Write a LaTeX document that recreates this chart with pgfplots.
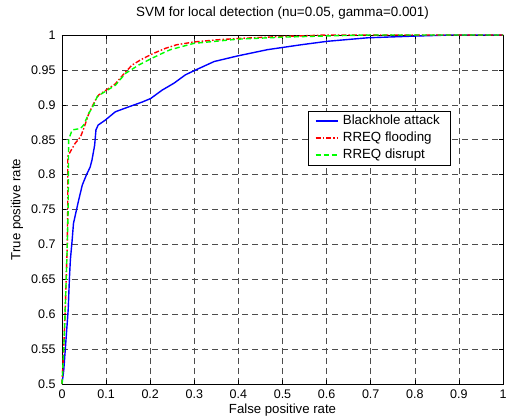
\documentclass[border=0pt]{standalone}
\usepackage{fontspec}
\setmainfont{Liberation Sans}
\usepackage{pgfplots}
\pgfplotsset{compat=1.18}
\definecolor{mblue}{RGB}{0,0,255}
\definecolor{mred}{RGB}{255,0,0}
\definecolor{mgreen}{RGB}{0,255,0}
\begin{document}
\begin{tikzpicture}[x=1pt,y=1pt]
\useasboundingbox (-62,-32) rectangle (444,384);
\begin{axis}[
  at={(0,0)}, anchor=south west,
  scale only axis, width=441pt, height=349pt,
  xmin=0, xmax=1, ymin=0.5, ymax=1,
  xtick={0,0.1,...,1.001}, ytick={0.5,0.55,...,1.001},
  scaled ticks=false,
  /pgf/number format/assume math mode=true,
  tick label style={font=\fontsize{12.5}{14}\selectfont},
  label style={font=\fontsize{13.2}{15}\selectfont},
  title style={font=\fontsize{13.4}{15}\selectfont, at={(0.5,1.0344)}, anchor=base},
  title={SVM for local detection (nu=0.05, gamma=0.001)},
  xlabel={False positive rate}, ylabel={True positive rate},
  xlabel style={at={(0.5,-0.0831)}, anchor=base},
  ylabel style={at={(-0.0946,0.5)}, anchor=base},
  xticklabel style={yshift=-2pt},
  yticklabel style={xshift=-3pt},
  tick align=inside, xtick pos=both, ytick pos=both,
  major tick length=4pt,
  axis line style={line width=0.8pt},
  every tick/.style={black, line width=0.6pt},
  grid=major,
  major grid style={black!70, line width=0.5pt, dash pattern=on 6pt off 4pt},
  clip=false,
  legend cell align=left,
  legend style={at={(0.5585,0.782)}, anchor=north west, draw=black, line width=0.8pt,
    fill=white, font=\fontsize{13.3}{15}\selectfont, inner xsep=6pt, inner ysep=1.5pt,
    row sep=0pt,
    nodes={text height=9.5pt, text depth=2.5pt, inner ysep=2.5pt, inner xsep=4.2pt}},
  legend image code/.code={\draw[#1, line width=2pt] (0pt,0pt) -- (22pt,0pt);},
]
\addplot[color=mblue, line width=1.4pt] coordinates {
(0,0.5)(0.004,0.52)(0.009,0.563)(0.014,0.606)(0.017,0.654)(0.019,0.678)(0.023,0.706)(0.026,0.73)(0.032,0.747)(0.038,0.764)(0.046,0.785)(0.055,0.799)(0.064,0.811)(0.068,0.821)(0.074,0.842)(0.077,0.864)(0.082,0.871)(0.098,0.878)(0.121,0.89)(0.151,0.897)(0.182,0.904)(0.201,0.909)(0.227,0.921)(0.254,0.931)(0.28,0.943)(0.30,0.949)(0.345,0.962)(0.398,0.970)(0.466,0.979)(0.542,0.986)(0.602,0.991)(0.693,0.996)(0.807,0.9986)(0.883,1.0)(1,1)
};
\addlegendentry{Blackhole attack}
\addplot[color=mred, line width=1.4pt, dash pattern=on 5pt off 2pt on 1.5pt off 2pt] coordinates {
(0,0.5)(0.004,0.55)(0.008,0.62)(0.012,0.70)(0.013,0.75)(0.013,0.826)(0.019,0.833)(0.03,0.845)(0.042,0.854)(0.051,0.869)(0.061,0.888)(0.076,0.907)(0.083,0.914)(0.1,0.921)(0.121,0.93)(0.144,0.947)(0.159,0.957)(0.18,0.965)(0.205,0.973)(0.235,0.981)(0.26,0.986)(0.299,0.990)(0.35,0.993)(0.398,0.995)(0.503,0.998)(0.6,1)(1,1)
};
\addlegendentry{RREQ flooding}
\addplot[color=mgreen, line width=1.4pt, dash pattern=on 5pt off 3pt] coordinates {
(0,0.5)(0.004,0.55)(0.008,0.62)(0.012,0.70)(0.014,0.75)(0.015,0.85)(0.023,0.864)(0.042,0.866)(0.049,0.871)(0.061,0.888)(0.072,0.9)(0.08,0.912)(0.098,0.919)(0.121,0.928)(0.144,0.945)(0.174,0.957)(0.205,0.967)(0.235,0.976)(0.246,0.979)(0.299,0.988)(0.398,0.994)(0.504,0.997)(0.62,0.999)(0.7,1)(1,1)
};
\addlegendentry{RREQ disrupt}
\end{axis}
\end{tikzpicture}
\end{document}
